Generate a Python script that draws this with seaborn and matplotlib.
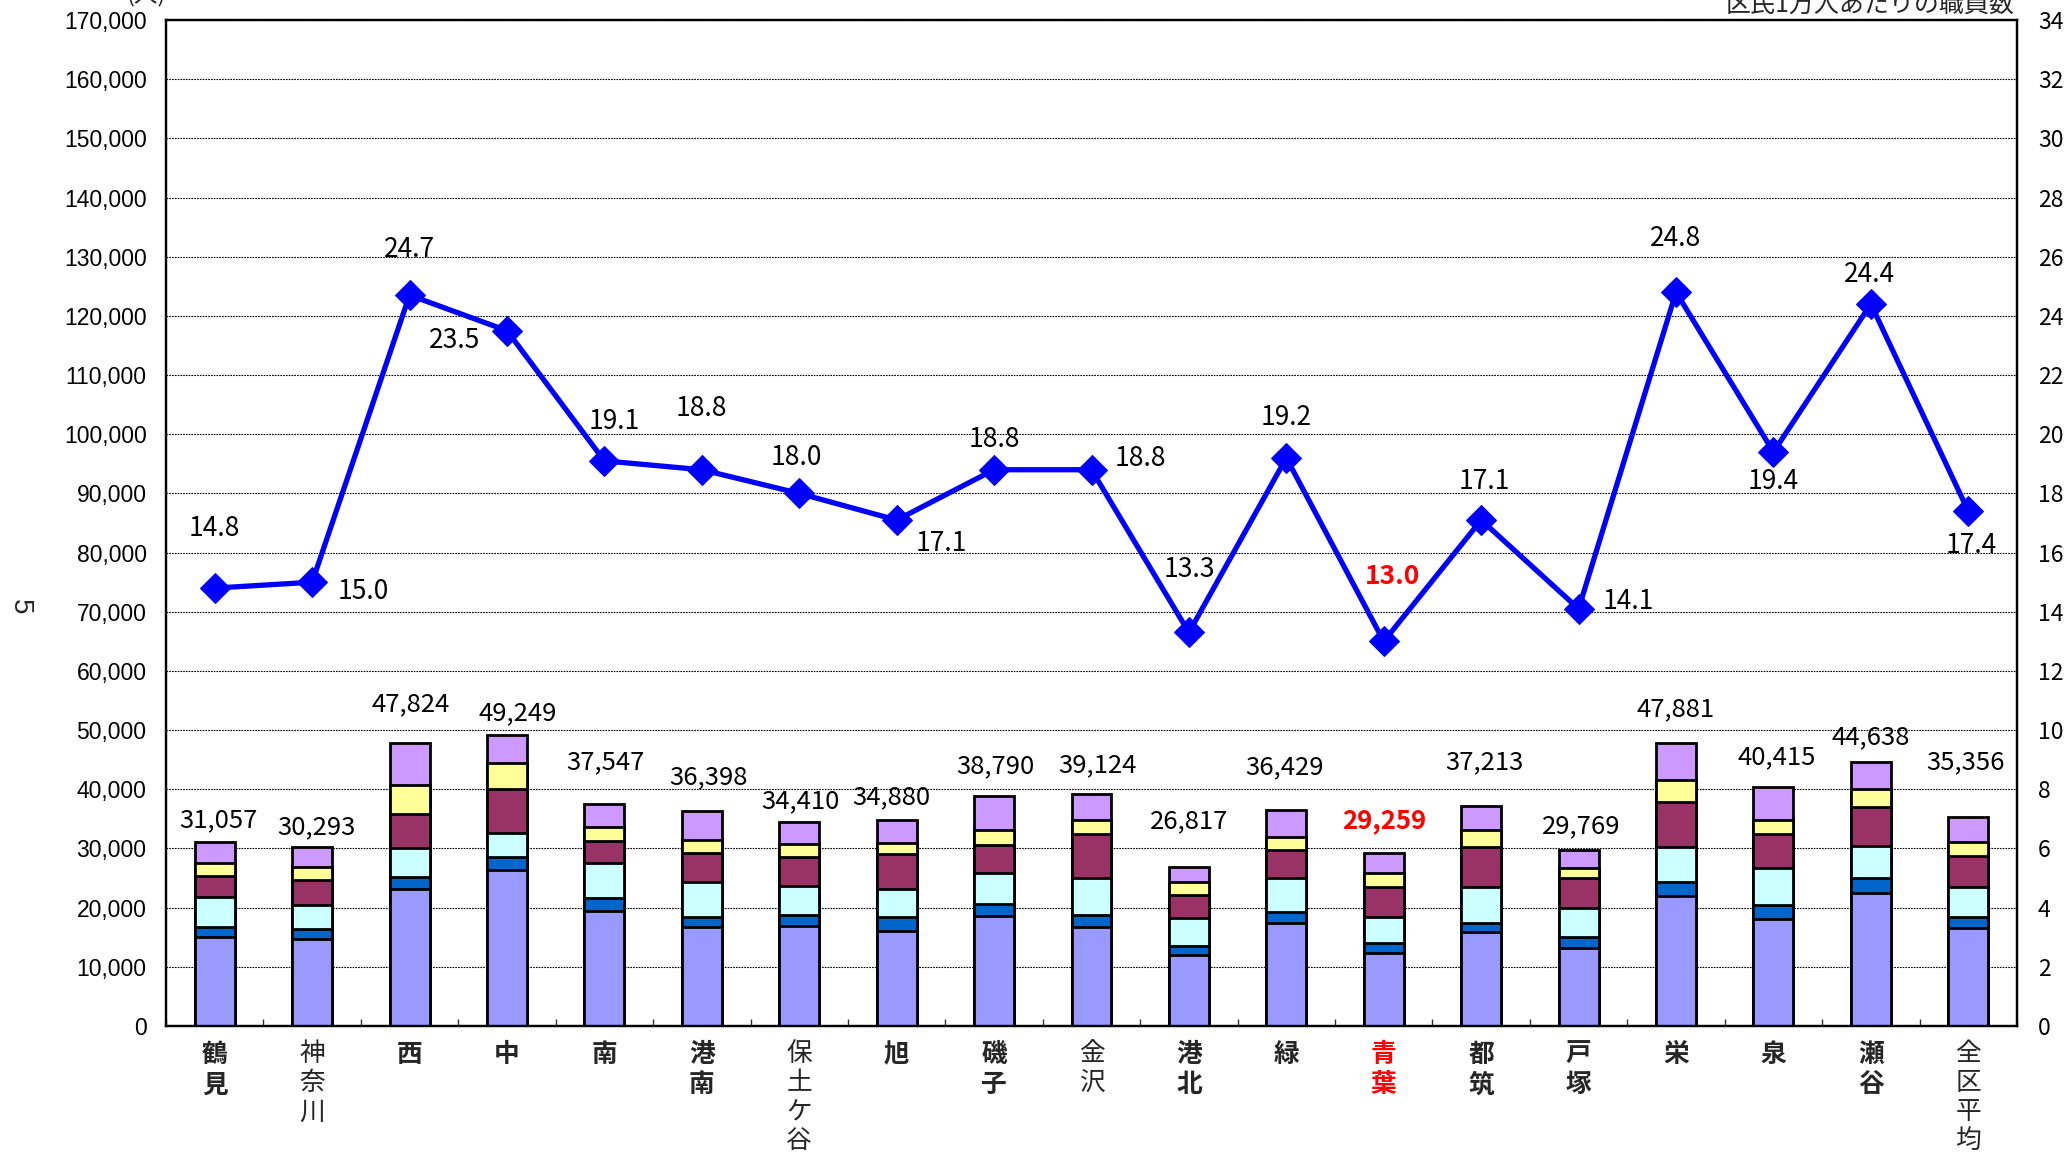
import numpy as np
import pandas as pd
import matplotlib
matplotlib.use("Agg")
import matplotlib.pyplot as plt
from matplotlib.ticker import FuncFormatter, MultipleLocator
import seaborn as sns

# ---------------- data ----------------
districts = ["鶴見", "神奈川", "西", "中", "南", "港南", "保土ケ谷", "旭", "磯子", "金沢",
             "港北", "緑", "青葉", "都筑", "戸塚", "栄", "泉", "瀬谷", "全区平均"]
seg1 = [15100, 14650, 23100, 26370, 19440, 16680, 16900, 16110, 18590, 16790,
        12000, 17350, 12280, 15940, 13240, 21970, 18030, 22540, 16620]
seg2 = [1690, 1690, 2140, 2250, 2140, 1800, 1860, 2250, 2030, 1970,
        1520, 1970, 1690, 1520, 1860, 2420, 2420, 2420, 1860]
seg3 = [5070, 4110, 4790, 3940, 5920, 5920, 4900, 4790, 5180, 6200,
        4680, 5630, 4390, 5970, 4790, 5920, 6200, 5440, 5070]
seg4 = [3550, 4230, 5790, 7550, 3830, 4900, 4850, 5920, 4790, 7440,
        3940, 4790, 5180, 6870, 5070, 7460, 5770, 6670, 5180]
seg5 = [2200, 2250, 4910, 4370, 2370, 2140, 2250, 1920, 2540, 2420,
        2250, 2140, 2250, 2820, 1690, 3780, 2370, 3040, 2420]
seg6 = [3447, 3363, 7094, 4769, 3847, 4958, 3650, 3890, 5660, 4304,
        2427, 4549, 3469, 4093, 3119, 6331, 5625, 4528, 4206]
totals = [31057, 30293, 47824, 49249, 37547, 36398, 34410, 34880, 38790, 39124,
          26817, 36429, 29259, 37213, 29769, 47881, 40415, 44638, 35356]
per10k = [14.8, 15.0, 24.7, 23.5, 19.1, 18.8, 18.0, 17.1, 18.8, 18.8,
          13.3, 19.2, 13.0, 17.1, 14.1, 24.8, 19.4, 24.4, 17.4]
bold_labels = [True, False, True, True, True, True, False, True, True, False,
               True, True, True, True, True, True, True, True, False]
highlight = "青葉"

# ---------------- style ----------------
sns.set_theme(style="white")
plt.rcParams["font.family"] = ["Noto Sans CJK JP", "DejaVu Sans"]

seg_colors = ["#9999FF", "#0066CC", "#CCFFFF", "#993366", "#FFFF99", "#CC99FF"]
segments = [seg1, seg2, seg3, seg4, seg5, seg6]

# label offsets (points) for line labels and bar total labels
line_off = [(0, 43), (37, -7), (0, 33), (-38, -7), (7, 28), (0, 44), (-2, 26), (32, -17),
            (0, 22), (35, 8), (0, 45), (0, 29), (6, 47), (2, 28), (36, 5), (0, 39),
            (0, -21), (-1, 21), (2, -25)]
bar_off = [(3, 16), (3, 14), (1, 28), (8, 15), (1, 30), (5, 24), (1, 15), (-4, 16),
           (1, 22), (4, 21), (0, 33), (-1, 31), (0, 23), (2, 31), (2, 17), (0, 24),
           (2, 21), (0, 18), (-2, 39)]

W, H = 2071, 1157
fig = plt.figure(figsize=(W / 100, H / 100), dpi=100)
ax = fig.add_axes([166 / W, 1 - 1026 / H, (2017 - 166) / W, (1026 - 20) / H])

df = pd.DataFrame({"district": districts})
cum = np.zeros(len(districts))
cums = []
for s in segments:
    cum = cum + np.array(s)
    cums.append(cum.copy())
for k in range(len(segments) - 1, -1, -1):
    df["h"] = cums[k]
    sns.barplot(data=df, x="district", y="h", ax=ax, color=seg_colors[k],
                saturation=1, width=0.41, edgecolor="black", linewidth=2.0,
                order=districts, zorder=2)

ax.set_ylim(0, 170000)
ax.set_xlim(-0.5, len(districts) - 0.5)
ax.yaxis.set_major_locator(MultipleLocator(10000))
ax.yaxis.set_major_formatter(FuncFormatter(lambda v, p: f"{int(v):,}"))
ax.yaxis.grid(True, color="black", linestyle=(0, (1.5, 1)), linewidth=0.8)
ax.set_axisbelow(True)
ax.set_xlabel("")
ax.set_ylabel("")
for t in ax.get_yticklabels():
    t.set_family(["Liberation Sans", "DejaVu Sans"])
ax.tick_params(axis="y", length=0, labelsize=16.5, pad=14, colors="black")

# x labels (vertical stacked)
ax.set_xticks(range(len(districts)))
ax.set_xticklabels(["\n".join(d) for d in districts])
for t, d, b in zip(ax.get_xticklabels(), districts, bold_labels):
    t.set_fontweight("bold" if b else "normal")
    t.set_fontsize(18.5)
    t.set_linespacing(1.15)
    t.set_verticalalignment("top")
    if d == highlight:
        t.set_color("red")
ax.set_xticks(np.arange(-0.5, len(districts), 1.0), minor=True)
ax.tick_params(axis="x", which="both", direction="in", length=5, width=1,
               color="#333333", pad=11, bottom=True)

for sp in ax.spines.values():
    sp.set_color("black")
    sp.set_linewidth(1.6)

# total labels
for i, (tot, off) in enumerate(zip(totals, bar_off)):
    ax.annotate(f"{tot:,}", xy=(i, tot), xytext=off, textcoords="offset points",
                ha="center", va="center", fontsize=18.5,
                color="red" if districts[i] == highlight else "black",
                fontweight="bold" if districts[i] == highlight else "normal",
                zorder=5)

# line on secondary axis
ax2 = ax.twinx()
ldf = pd.DataFrame({"x": np.arange(len(districts)), "v": per10k})
sns.lineplot(data=ldf, x="x", y="v", ax=ax2, color="#0000FF", linewidth=3.8,
             marker="D", markersize=15, markeredgecolor="#0000FF", zorder=4)
ax2.set_ylim(0, 34)
ax2.set_xlim(-0.5, len(districts) - 0.5)
ax2.yaxis.set_major_locator(MultipleLocator(2))
ax2.tick_params(axis="y", length=0, labelsize=16.5, pad=15, colors="black")
ax2.set_ylabel("")
ax2.set_xlabel("")
ax2.grid(False)
for sp in ax2.spines.values():
    sp.set_color("black")
    sp.set_linewidth(1.6)

for i, (v, off) in enumerate(zip(per10k, line_off)):
    hl = districts[i] == highlight
    ax2.annotate(f"{v:.1f}", xy=(i, v), xytext=off, textcoords="offset points",
                 ha="center", va="center", fontsize=19,
                 color="red" if hl else "black",
                 fontweight="bold" if hl else "normal")

# axis captions (partially cut off at the top like the original)
fig.text(166 / W, 1 - 6 / H, "(人)", ha="right", va="bottom", fontsize=17)
fig.text(2014 / W, 1 - 18 / H, "区民1万人あたりの職員数", ha="right", va="bottom", fontsize=18)
fig.text(20 / W, 1 - 607 / H, "5", ha="center", va="center", fontsize=20, rotation=-90,
         family=["Liberation Sans", "DejaVu Sans"])

fig.savefig("out.png", dpi=100)
